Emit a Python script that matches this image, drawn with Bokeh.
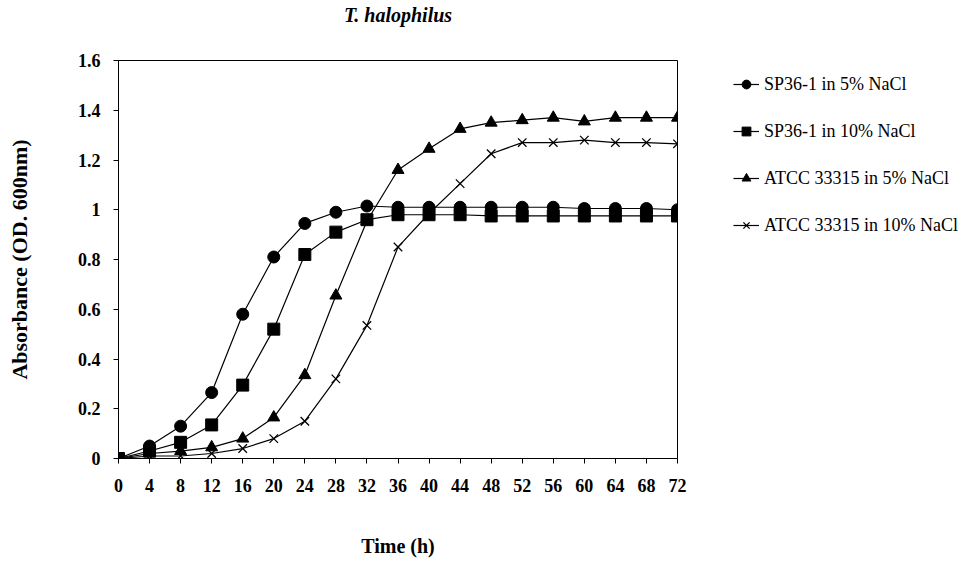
from bokeh.plotting import figure
from bokeh.models import Range1d, FixedTicker, Legend, LegendItem, Title
from bokeh.embed import file_html
from bokeh.resources import INLINE

time_h = [0, 4, 8, 12, 16, 20, 24, 28, 32, 36, 40, 44, 48, 52, 56, 60, 64, 68, 72]
sp_5 = [0.0, 0.05, 0.13, 0.265, 0.58, 0.81, 0.945, 0.99, 1.015, 1.01, 1.01, 1.01, 1.01, 1.01, 1.01, 1.005, 1.005, 1.005, 1.0]
sp_10 = [0.0, 0.03, 0.065, 0.135, 0.295, 0.52, 0.82, 0.91, 0.96, 0.98, 0.98, 0.98, 0.975, 0.975, 0.975, 0.975, 0.975, 0.975, 0.975]
atcc_5 = [0.0, 0.02, 0.03, 0.045, 0.08, 0.165, 0.335, 0.655, 0.955, 1.16, 1.245, 1.325, 1.35, 1.36, 1.37, 1.355, 1.37, 1.37, 1.37]
atcc_10 = [0.0, 0.01, 0.01, 0.02, 0.04, 0.08, 0.15, 0.32, 0.535, 0.85, 0.985, 1.105, 1.225, 1.27, 1.27, 1.28, 1.27, 1.27, 1.265]

series_names = ["SP36-1 in 5% NaCl", "SP36-1 in 10% NaCl", "ATCC 33315 in 5% NaCl", "ATCC 33315 in 10% NaCl"]
markers = ["circle", "square", "triangle", "x"]

x_ticks = list(range(0, 73, 4))
y_ticks = [0.0, 0.2, 0.4, 0.6, 0.8, 1.0, 1.2, 1.4, 1.6]
y_tick_labels = ["0", "0.2", "0.4", "0.6", "0.8", "1", "1.2", "1.4", "1.6"]
chart_title = "T. halophilus"

SERIF = "Liberation Serif"

p = figure(frame_width=559, frame_height=398, output_backend="svg", toolbar_location=None,
           x_range=Range1d(0, 72), y_range=Range1d(0, 1.6),
           min_border_left=118, min_border_right=281, min_border_top=60, min_border_bottom=110)

# real title (outermost); a blank spacer title sits between it and the frame
p.title.text = chart_title
p.title.align = "center"
p.title.text_font = SERIF
p.title.text_font_style = "bold italic"
p.title.text_font_size = "20px"
p.title.text_color = "black"
p.title.standoff = 0
p.add_layout(Title(text=" ", text_font_size="20px", standoff=11), "above")

p.grid.visible = False
p.outline_line_color = "black"
p.outline_line_width = 1
p.background_fill_color = "white"
p.border_fill_color = "white"

p.xaxis.ticker = FixedTicker(ticks=x_ticks)
p.yaxis.ticker = FixedTicker(ticks=y_ticks)
p.yaxis.major_label_overrides = {t: l for t, l in zip(y_ticks, y_tick_labels)}

for ax in (p.xaxis, p.yaxis):
    ax.axis_line_color = "black"
    ax.major_tick_line_color = "black"
    ax.minor_tick_line_color = None
    ax.major_tick_in = 0
    ax.major_tick_out = 5
    ax.major_label_text_font = SERIF
    ax.major_label_text_font_style = "bold"
    ax.major_label_text_font_size = "18px"
    ax.major_label_text_color = "black"
    ax.axis_label_text_font = SERIF
    ax.axis_label_text_font_style = "bold"
    ax.axis_label_text_color = "black"

p.xaxis.axis_label = "Time (h)"
p.xaxis.axis_label_text_font_size = "20px"
p.xaxis.major_label_standoff = 15
p.xaxis.axis_label_standoff = 40
p.yaxis.axis_label = "Absorbance (OD. 600nm)"
p.yaxis.axis_label_text_font_size = "22px"
p.yaxis.major_label_standoff = 13
p.yaxis.axis_label_standoff = 43

items = []
for name, ys, mk in zip(series_names, [sp_5, sp_10, atcc_5, atcc_10], markers):
    ln = p.line(time_h, ys, line_color="black", line_width=1.2)
    if mk == "x":
        sc = p.scatter(time_h, ys, marker=mk, size=12, line_color="black", line_width=1.3, fill_color="black")
    else:
        sc = p.scatter(time_h, ys, marker=mk, size=12, line_color="black", fill_color="black")
    items.append(LegendItem(label=name, renderers=[ln, sc]))

legend = Legend(items=items, location=(56, 222), orientation="vertical",
                label_text_font=SERIF, label_text_font_size="18px", label_text_color="black",
                glyph_width=26, glyph_height=22, label_height=22, spacing=25,
                padding=0, margin=0, border_line_color=None, background_fill_alpha=0)
p.add_layout(legend, "right")

open("out.html", "w").write(file_html(p, INLINE))
